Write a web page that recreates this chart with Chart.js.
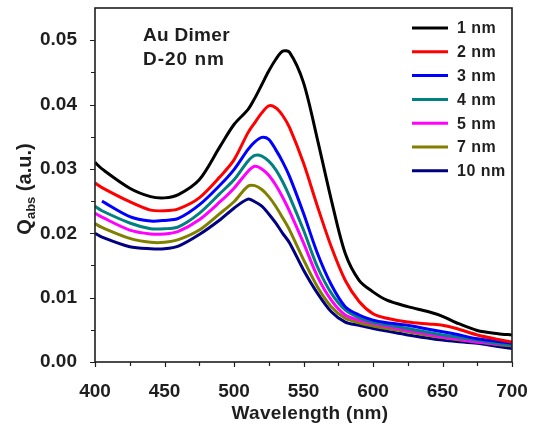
<!DOCTYPE html>
<html>
<head>
<meta charset="utf-8">
<script src="https://cdn.jsdelivr.net/npm/chart.js@4/dist/chart.umd.min.js"></script>
<style>
  html, body { margin: 0; padding: 0; background: #fff; }
  #wrap { width: 533px; height: 427px; position: relative; }
</style>
</head>
<body>
<div id="wrap"><canvas id="absChart"></canvas></div>
<script>
// ── Absorption efficiency of an Au dimer (D = 20 nm) vs. gap size ──
const wavelengths = [400, 405, 425, 440, 450, 460, 475, 490, 500, 510, 515, 520, 525, 530, 535,
                     540, 550, 560, 570, 580, 590, 600, 610, 625, 640, 650, 660, 675, 690, 700];

const gap1nm  = [.0310, .0300, .0270, .0257, .0255, .0260, .0283, .0335, .0369, .0392, .0410, .0431, .0452, .0470, .0483,
                 .0481, .0434, .0346, .0252, .0169, .0127, .0109, .0096, .0086, .0078, .0071, .0061, .0049, .0044, .0042];
const gap2nm  = [.0278, .0271, .0249, .0236, .0235, .0238, .0255, .0288, .0314, .0356, .0372, .0387, .0398, .0395, .0383,
                 .0364, .0309, .0242, .0179, .0127, .0094, .0075, .0068, .0062, .0059, .0057, .0052, .0042, .0035, .0031];
const gap3nm  = [null, .0250, .0226, .0219, .0220, .0223, .0244, .0275, .0299, .0330, .0342, .0349, .0346, .0330, .0311,
                 .0288, .0231, .0169, .0120, .0086, .0073, .0065, .0061, .0057, .0051, .0047, .0043, .0036, .0032, .0029];
const gap4nm  = [.0242, .0235, .0216, .0207, .0207, .0210, .0231, .0262, .0283, .0312, .0321, .0320, .0312, .0299, .0280,
                 .0257, .0205, .0148, .0107, .0081, .0069, .0062, .0058, .0052, .0046, .0042, .0039, .0034, .0029, .0026];
const gap5nm  = [.0231, .0225, .0205, .0199, .0199, .0203, .0221, .0249, .0270, .0296, .0304, .0300, .0290, .0275, .0256,
                 .0234, .0185, .0133, .0096, .0073, .0065, .0060, .0055, .0049, .0043, .0039, .0036, .0031, .0028, .0026];
const gap7nm  = [.0215, .0209, .0192, .0186, .0186, .0190, .0205, .0231, .0249, .0273, .0274, .0268, .0257, .0242, .0224,
                 .0205, .0159, .0117, .0086, .0068, .0061, .0056, .0052, .0047, .0041, .0038, .0035, .0031, .0027, .0025];
const gap10nm = [.0200, .0194, .0179, .0176, .0176, .0180, .0198, .0221, .0239, .0253, .0249, .0242, .0230, .0216, .0200,
                 .0185, .0143, .0107, .0078, .0062, .0057, .0052, .0048, .0042, .0037, .0034, .0032, .0029, .0024, .0021];

const seriesLabels = ["1 nm", "2 nm", "3 nm", "4 nm", "5 nm", "7 nm", "10 nm"];
const seriesColors = ["#000000", "#ff0000", "#0000ff", "#008080", "#ff00ff", "#808000", "#000080"];
const seriesValues = [gap1nm, gap2nm, gap3nm, gap4nm, gap5nm, gap7nm, gap10nm];

const xTicks = [400, 450, 500, 550, 600, 650, 700];
const yTicks = [0, 0.01, 0.02, 0.03, 0.04, 0.05];

const FONT = "'Liberation Sans', Arial, sans-serif";
const INK  = "#1e1e1e";

// frame, outward ticks, legend, annotation and axis titles
const decorations = {
  id: "decorations",
  afterDraw(chart) {
    const { ctx, chartArea: a, scales: { x, y } } = chart;
    ctx.save();
    ctx.strokeStyle = INK;
    ctx.lineWidth = 1.6;
    ctx.strokeRect(a.left, a.top, a.right - a.left, a.bottom - a.top);

    ctx.lineWidth = 1.2;
    ctx.beginPath();
    for (let v = 400; v <= 700; v += 25) {
      const px = Math.round(x.getPixelForValue(v)) + 0.5;
      const len = v % 50 === 0 ? 5 : 4;
      ctx.moveTo(px, a.bottom); ctx.lineTo(px, a.bottom + len);
    }
    for (let i = 0; i <= 10; i++) {
      const py = Math.round(y.getPixelForValue(i * 0.005)) + 0.5;
      const len = i % 2 === 0 ? 5 : 4;
      ctx.moveTo(a.left, py); ctx.lineTo(a.left - len, py);
    }
    ctx.stroke();

    // legend
    ctx.textBaseline = "middle";
    ctx.textAlign = "left";
    ctx.font = "bold 16px " + FONT;
    ctx.letterSpacing = "0.5px";
    chart.data.datasets.forEach((ds, i) => {
      const cy = 28 + i * 23.8;
      ctx.strokeStyle = ds.borderColor;
      ctx.lineWidth = 3;
      ctx.beginPath(); ctx.moveTo(412, cy); ctx.lineTo(448, cy); ctx.stroke();
      ctx.fillStyle = INK;
      ctx.fillText(ds.label, 457, cy + 1);
    });

    // annotation
    ctx.textBaseline = "alphabetic";
    ctx.font = "bold 19px " + FONT;
    ctx.letterSpacing = "0.3px";
    ctx.fillText("Au Dimer", 143, 41);
    ctx.letterSpacing = "1px";
    ctx.fillText("D-20 nm", 143, 65);

    // x title
    ctx.letterSpacing = "0.3px";
    ctx.textAlign = "center";
    ctx.textBaseline = "middle";
    ctx.font = "bold 19px " + FONT;
    ctx.fillText("Wavelength (nm)", 310, 414);

    // y title with subscript
    ctx.letterSpacing = "0px";
    ctx.translate(31, 189);
    ctx.rotate(-Math.PI / 2);
    const big = "bold 20px " + FONT, small = "bold 13px " + FONT;
    ctx.font = big;   const wQ = ctx.measureText("Q").width;
    ctx.font = small; const wS = ctx.measureText("abs").width;
    ctx.font = big;   const wR = ctx.measureText(" (a.u.)").width;
    let sx = -(wQ + wS + wR) / 2;
    ctx.textAlign = "left";
    ctx.textBaseline = "alphabetic";
    ctx.fillText("Q", sx, 0); sx += wQ;
    ctx.font = small; ctx.fillText("abs", sx, 4); sx += wS;
    ctx.font = big;   ctx.fillText(" (a.u.)", sx, 0);
    ctx.restore();
  }
};

new Chart(document.getElementById("absChart"), {
  type: "line",
  data: {
    datasets: seriesLabels.map((label, i) => ({
      label,
      data: wavelengths.map((w, j) => ({ x: w, y: seriesValues[i][j] })),
      borderColor: seriesColors[i],
      backgroundColor: seriesColors[i],
      borderWidth: 3,
      pointRadius: 0,
      tension: 0.3,
      spanGaps: false
    }))
  },
  options: {
    responsive: true, maintainAspectRatio: false, animation: false,
    layout: { padding: { left: 0, top: 8, right: 21, bottom: 0 } },
    plugins: { legend: { display: false }, tooltip: { enabled: false } },
    scales: {
      x: {
        type: "linear", min: 400, max: 700,
        afterBuildTicks: s => { s.ticks = xTicks.map(v => ({ value: v })); },
        afterFit: s => { s.height = 65; s.paddingLeft = 0; s.paddingRight = 0; },
        ticks: { color: INK, font: { family: FONT, size: 19, weight: "bold" }, padding: 10, maxRotation: 0 },
        grid: { display: false }, border: { display: false }
      },
      y: {
        min: 0, max: 0.055,
        afterBuildTicks: s => { s.ticks = yTicks.map(v => ({ value: v })); },
        afterFit: s => { s.width = 95; s.paddingTop = 0; s.paddingBottom = 0; },
        ticks: { color: INK, font: { family: FONT, size: 19, weight: "bold" }, padding: 10,
                 callback: v => v.toFixed(2) },
        grid: { display: false }, border: { display: false }
      }
    }
  },
  plugins: [decorations]
});
</script>
</body>
</html>
